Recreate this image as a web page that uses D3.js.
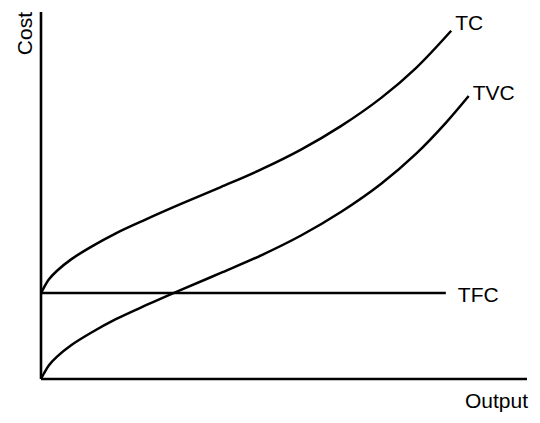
<!DOCTYPE html>
<html>
<head>
<meta charset="utf-8">
<script src="https://cdn.jsdelivr.net/npm/d3@7"></script>
<style>
  body { margin: 0; background: #fff; }
  text { font-family: 'Liberation Sans', Arial, sans-serif; font-size: 21px; fill: #000; }
</style>
</head>
<body>
<div id="grafico"></div>
<script>
const width = 540
const height = 423
const margin = {top: 12, right: 13, bottom: 44, left: 41}

// output levels (arbitrary units, the axes have no ticks)
const outputTVC = [0, 0.6, 1.6, 3.3, 6.2, 10.3, 15.4, 21.6, 28.8, 37.0, 45.3, 53.5, 61.7, 70.0, 77.2, 83.3, 88.0]
const tvcValues = [0, 1.5, 3.7, 6.1, 9.2, 12.6, 16.3, 20.1, 24.3, 28.9, 33.7, 39.1, 45.5, 53.2, 61.4, 69.8, 77.1]

const outputTC = [0, 0.6, 1.6, 3.3, 6.2, 10.3, 15.4, 21.6, 28.8, 37.0, 45.3, 53.5, 61.7, 70.0, 77.2, 84.4]
const tcValues = [23.4, 24.9, 27.1, 29.5, 32.6, 36.0, 39.7, 43.5, 47.7, 52.3, 57.1, 62.5, 68.9, 76.6, 84.8, 94.9]

const tfcLevel = 23.4
const tfcOutput = [0, 83.3]

const svg = d3.select('#grafico')
              .append('svg')
              .attr('width', width)
              .attr('height', height)

const x = d3.scaleLinear()
            .domain([0, 100])
            .range([margin.left, width - margin.right])

const y = d3.scaleLinear()
            .domain([0, 100])
            .range([height - margin.bottom, margin.top])

const line = d3.line()
               .x(d => x(d[0]))
               .y(d => y(d[1]))
               .curve(d3.curveCatmullRom.alpha(0.5))

const tvc = outputTVC.map((q, i) => [q, tvcValues[i]])
const tc = outputTC.map((q, i) => [q, tcValues[i]])
const tfc = tfcOutput.map(q => [q, tfcLevel])

// axes
svg.append('line')
   .attr('x1', x(0)).attr('x2', x(100))
   .attr('y1', y(0)).attr('y2', y(0))
   .attr('stroke', '#000').attr('stroke-width', 2.6)

svg.append('line')
   .attr('x1', x(0)).attr('x2', x(0))
   .attr('y1', y(0)).attr('y2', y(100))
   .attr('stroke', '#000').attr('stroke-width', 2.6)

// curves
svg.selectAll('path.curve')
   .data([tc, tvc, tfc])
   .enter()
   .append('path')
   .attr('class', 'curve')
   .attr('d', d => line(d))
   .attr('fill', 'none')
   .attr('stroke', '#000')
   .attr('stroke-width', 2.5)

// labels at line ends
const labels = [
    {text: 'TC', p: tc[tc.length - 1], dx: 4, dy: -1},
    {text: 'TVC', p: tvc[tvc.length - 1], dx: 4, dy: 4},
    {text: 'TFC', p: tfc[1], dx: 12, dy: 9}
]

svg.selectAll('text.lbl')
   .data(labels)
   .enter()
   .append('text')
   .attr('class', 'lbl')
   .attr('x', d => x(d.p[0]) + d.dx)
   .attr('y', d => y(d.p[1]) + d.dy)
   .text(d => d.text)

svg.append('text')
   .attr('x', x(100) + 1)
   .attr('y', 408)
   .attr('text-anchor', 'end')
   .text('Output')

svg.append('text')
   .attr('transform', `translate(32, ${margin.top}) rotate(-90)`)
   .attr('text-anchor', 'end')
   .text('Cost')
</script>
</body>
</html>
